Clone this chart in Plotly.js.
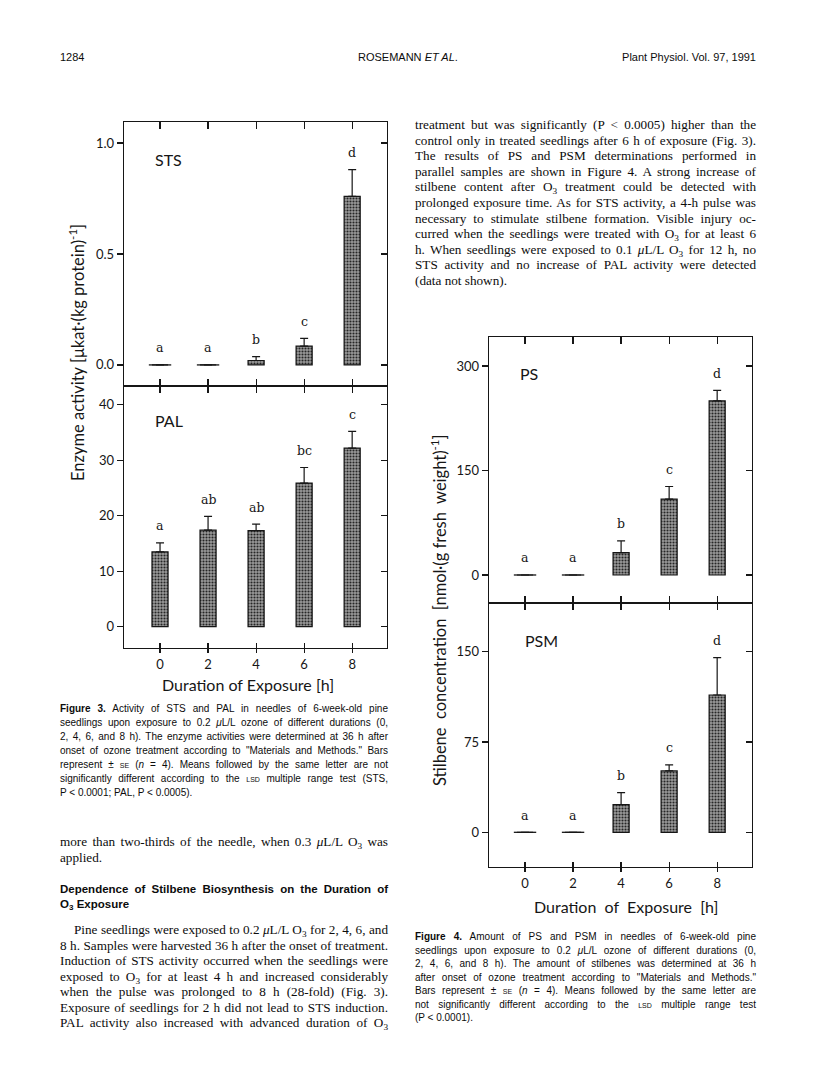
<!DOCTYPE html>
<html><head><meta charset="utf-8">
<script src="https://cdn.plot.ly/plotly-3.0.1.min.js"></script>
<style>
html,body{margin:0;padding:0;background:#fff;}
#page{position:relative;width:816px;height:1073px;overflow:hidden;background:#fff;}
#chart{position:absolute;left:0;top:0;width:816px;height:1073px;}
.ln{position:absolute;white-space:nowrap;color:#0c0c0c;}
.serif{font-family:"Liberation Serif","Times New Roman",serif;font-size:13.2px;line-height:16px;height:16px;}
.cap{font-family:"Liberation Sans",Arial,sans-serif;font-size:10px;line-height:13px;height:13px;}
.hd{font-family:"Liberation Sans",Arial,sans-serif;font-size:11.5px;font-weight:bold;line-height:15px;height:15px;}
.top{font-family:"Liberation Sans",Arial,sans-serif;font-size:11px;line-height:14px;height:14px;}
.sc{font-variant:small-caps;}
sub{font-size:0.7em;vertical-align:-0.3em;line-height:0;}
</style></head>
<body>
<div id="page">
<div id="chart"></div>

<div class="ln top" style="left:60px;top:50px">1284</div>
<div class="ln top" style="left:358px;top:50px">ROSEMANN <i>ET AL</i>.</div>
<div class="ln top" style="right:60px;top:50px">Plant Physiol. Vol. 97, 1991</div>

<div class="ln serif j" data-w="341" style="left:415px;top:117px">treatment but was significantly (P &lt; 0.0005) higher than the</div>
<div class="ln serif j" data-w="341" style="left:415px;top:132.6px">control only in treated seedlings after 6 h of exposure (Fig. 3).</div>
<div class="ln serif j" data-w="341" style="left:415px;top:148.2px">The results of PS and PSM determinations performed in</div>
<div class="ln serif j" data-w="341" style="left:415px;top:163.8px">parallel samples are shown in Figure 4. A strong increase of</div>
<div class="ln serif j" data-w="341" style="left:415px;top:179.4px">stilbene content after O<sub>3</sub> treatment could be detected with</div>
<div class="ln serif j" data-w="341" style="left:415px;top:195px">prolonged exposure time. As for STS activity, a 4-h pulse was</div>
<div class="ln serif j" data-w="341" style="left:415px;top:210.6px">necessary to stimulate stilbene formation. Visible injury oc-</div>
<div class="ln serif j" data-w="341" style="left:415px;top:226.2px">curred when the seedlings were treated with O<sub>3</sub> for at least 6</div>
<div class="ln serif j" data-w="341" style="left:415px;top:241.8px">h. When seedlings were exposed to 0.1 <i>μ</i>L/L O<sub>3</sub> for 12 h, no</div>
<div class="ln serif j" data-w="341" style="left:415px;top:257.4px">STS activity and no increase of PAL activity were detected</div>
<div class="ln serif" style="left:415px;top:273px">(data not shown).</div>

<div class="ln cap j" data-w="328" style="left:60px;top:702px"><b>Figure 3.</b> Activity of STS and PAL in needles of 6-week-old pine</div>
<div class="ln cap j" data-w="328" style="left:60px;top:716px">seedlings upon exposure to 0.2 <i>μ</i>L/L ozone of different durations (0,</div>
<div class="ln cap j" data-w="328" style="left:60px;top:730px">2, 4, 6, and 8 h). The enzyme activities were determined at 36 h after</div>
<div class="ln cap j" data-w="328" style="left:60px;top:744px">onset of ozone treatment according to "Materials and Methods." Bars</div>
<div class="ln cap j" data-w="328" style="left:60px;top:758px">represent ± <span class="sc">se</span> (<i>n</i> = 4). Means followed by the same letter are not</div>
<div class="ln cap j" data-w="328" style="left:60px;top:772px">significantly different according to the <span class="sc">lsd</span> multiple range test (STS,</div>
<div class="ln cap" style="left:60px;top:786px">P &lt; 0.0001; PAL, P &lt; 0.0005).</div>

<div class="ln serif j" data-w="328" style="left:60px;top:834px">more than two-thirds of the needle, when 0.3 <i>μ</i>L/L O<sub>3</sub> was</div>
<div class="ln serif" style="left:60px;top:849.5px">applied.</div>
<div class="ln hd j" data-w="328" style="left:60px;top:881.5px">Dependence of Stilbene Biosynthesis on the Duration of</div>
<div class="ln hd" style="left:60px;top:896.5px">O<sub>3</sub> Exposure</div>
<div class="ln serif j" data-w="314" style="left:74px;top:922px">Pine seedlings were exposed to 0.2 <i>μ</i>L/L O<sub>3</sub> for 2, 4, 6, and</div>
<div class="ln serif j" data-w="328" style="left:60px;top:937.5px">8 h. Samples were harvested 36 h after the onset of treatment.</div>
<div class="ln serif j" data-w="328" style="left:60px;top:953px">Induction of STS activity occurred when the seedlings were</div>
<div class="ln serif j" data-w="328" style="left:60px;top:968.5px">exposed to O<sub>3</sub> for at least 4 h and increased considerably</div>
<div class="ln serif j" data-w="328" style="left:60px;top:984px">when the pulse was prolonged to 8 h (28-fold) (Fig. 3).</div>
<div class="ln serif j" data-w="328" style="left:60px;top:999.5px">Exposure of seedlings for 2 h did not lead to STS induction.</div>
<div class="ln serif j" data-w="328" style="left:60px;top:1015px">PAL activity also increased with advanced duration of O<sub>3</sub></div>

<div class="ln cap j" data-w="341" style="left:415px;top:930px"><b>Figure 4.</b> Amount of PS and PSM in needles of 6-week-old pine</div>
<div class="ln cap j" data-w="341" style="left:415px;top:943.5px">seedlings upon exposure to 0.2 <i>μ</i>L/L ozone of different durations (0,</div>
<div class="ln cap j" data-w="341" style="left:415px;top:957px">2, 4, 6, and 8 h). The amount of stilbenes was determined at 36 h</div>
<div class="ln cap j" data-w="341" style="left:415px;top:970.5px">after onset of ozone treatment according to "Materials and Methods."</div>
<div class="ln cap j" data-w="341" style="left:415px;top:984px">Bars represent ± <span class="sc">se</span> (<i>n</i> = 4). Means followed by the same letter are</div>
<div class="ln cap j" data-w="341" style="left:415px;top:997.5px">not significantly different according to the <span class="sc">lsd</span> multiple range test</div>
<div class="ln cap" style="left:415px;top:1011px">(P &lt; 0.0001).</div>
</div>

<script>
// ---------------- data ----------------
const hours = [0, 2, 4, 6, 8];
const xTickLabels = ['0', '2', '4', '6', '8'];

const stsMean = [0, 0, 0.02, 0.085, 0.76];
const stsSE = [0, 0, 0.017, 0.035, 0.12];
const stsLetters = ['a', 'a', 'b', 'c', 'd'];
const stsTicks = [0, 0.5, 1.0];
const stsTickText = ['0.0', '0.5', '1.0'];

const palMean = [13.5, 17.4, 17.3, 25.9, 32.2];
const palSE = [1.6, 2.5, 1.2, 2.8, 3.0];
const palLetters = ['a', 'ab', 'ab', 'bc', 'c'];
const palTicks = [0, 10, 20, 30, 40];

const psMean = [0, 0, 32, 109, 250];
const psSE = [0, 0, 17, 18, 15];
const psLetters = ['a', 'a', 'b', 'c', 'd'];
const psTicks = [0, 150, 300];

const psmMean = [0, 0, 23, 51, 114];
const psmSE = [0, 0, 10, 5, 31];
const psmLetters = ['a', 'a', 'b', 'c', 'd'];
const psmTicks = [0, 75, 150];

// ---------------- geometry ----------------
const W = 816, H = 1073;
const px = v => v / W;
const py = v => 1 - v / H;
const f3x = [px(124), px(387)];
const stsY = [py(386), py(122)];
const palY = [py(648), py(386)];
const f4x = [px(489), px(752)];
const psY = [py(603), py(337)];
const psmY = [py(867), py(603)];
const xr = [-1.5, 9.45];

const ink = '#161616';
const base = {showline: true, linecolor: ink, linewidth: 1.3, tickcolor: ink, tickwidth: 1.2,
  showgrid: false, zeroline: false, fixedrange: true, tickmode: 'array'};
const tickFont = {family: 'Lato, "DejaVu Sans", sans-serif', size: 13, color: ink};

function xa(extra) { return Object.assign({}, base, {range: xr, tickvals: hours, ticktext: xTickLabels, showticklabels: false}, extra); }
function ya(range, ticks, text, extra) {
  return Object.assign({}, base, {range: range, tickvals: ticks, ticktext: text || ticks.map(String), showticklabels: false}, extra);
}

const stsR = [-0.095, 1.095], palR = [-3.85, 43.4], psR = [-40.2, 341.6], psmR = [-28.8, 190.4];

const layout = {
  width: W, height: H, margin: {l: 0, r: 0, t: 0, b: 0},
  paper_bgcolor: 'rgba(0,0,0,0)', plot_bgcolor: 'rgba(0,0,0,0)',
  showlegend: false, bargap: 0,
  font: tickFont,
  // Figure 3
  xaxis: xa({domain: f3x, anchor: 'y', side: 'top', ticks: 'inside', ticklen: 7}),
  xaxis5: xa({overlaying: 'x', anchor: 'y', side: 'bottom', ticks: 'outside', ticklen: 6}),
  xaxis2: xa({domain: f3x, anchor: 'y2', side: 'bottom', ticks: 'outside', ticklen: 4, showticklabels: true, tickfont: tickFont}),
  xaxis6: xa({overlaying: 'x2', anchor: 'y2', side: 'top', ticks: 'outside', ticklen: 6}),
  xaxis7: xa({overlaying: 'x2', anchor: 'y2', side: 'bottom', ticks: 'inside', ticklen: 5, showline: false}),
  yaxis: ya(stsR, stsTicks, stsTickText, {domain: stsY, anchor: 'x', side: 'left', ticks: 'outside', ticklen: 6, showticklabels: true, tickfont: tickFont}),
  yaxis5: ya(stsR, stsTicks, stsTickText, {overlaying: 'y', anchor: 'x', side: 'right', ticks: 'inside', ticklen: 6}),
  yaxis2: ya(palR, palTicks, null, {domain: palY, anchor: 'x2', side: 'left', ticks: 'outside', ticklen: 6, showticklabels: true, tickfont: tickFont}),
  yaxis6: ya(palR, palTicks, null, {overlaying: 'y2', anchor: 'x2', side: 'right', ticks: 'inside', ticklen: 6}),
  // Figure 4
  xaxis3: xa({domain: f4x, anchor: 'y3', side: 'top', ticks: 'inside', ticklen: 7}),
  xaxis8: xa({overlaying: 'x3', anchor: 'y3', side: 'bottom', ticks: 'outside', ticklen: 6}),
  xaxis4: xa({domain: f4x, anchor: 'y4', side: 'bottom', ticks: 'outside', ticklen: 4, showticklabels: true, tickfont: tickFont}),
  xaxis9: xa({overlaying: 'x4', anchor: 'y4', side: 'top', ticks: 'outside', ticklen: 6}),
  xaxis10: xa({overlaying: 'x4', anchor: 'y4', side: 'bottom', ticks: 'inside', ticklen: 5, showline: false}),
  yaxis3: ya(psR, psTicks, null, {domain: psY, anchor: 'x3', side: 'left', ticks: 'outside', ticklen: 6, showticklabels: true, tickfont: tickFont}),
  yaxis7: ya(psR, psTicks, null, {overlaying: 'y3', anchor: 'x3', side: 'right', ticks: 'inside', ticklen: 6}),
  yaxis4: ya(psmR, psmTicks, null, {domain: psmY, anchor: 'x4', side: 'left', ticks: 'outside', ticklen: 6, showticklabels: true, tickfont: tickFont}),
  yaxis8: ya(psmR, psmTicks, null, {overlaying: 'y4', anchor: 'x4', side: 'right', ticks: 'inside', ticklen: 6}),
  annotations: []
};

const traces = [];
const pattern = {shape: '.', fgcolor: '#262626', bgcolor: '#9a9a9a', size: 3, solidity: 0.38, fillmode: 'replace'};

function panel(mean, se, letters, xid, yid) {
  traces.push({
    type: 'bar', x: hours, y: mean, xaxis: xid, yaxis: yid, width: 0.67,
    marker: {color: '#6e6e6e', line: {color: ink, width: 1.2}, pattern: pattern},
    error_y: {type: 'data', symmetric: false, array: se, arrayminus: se.map(() => 0),
      color: ink, thickness: 1.2, width: 4},
    hoverinfo: 'skip'
  });
  const zx = [], zy = [];
  mean.forEach((m, i) => { if (m === 0) { zx.push(hours[i]); zy.push(m); } });
  traces.push({type: 'scatter', mode: 'markers', x: zx, y: zy, xaxis: xid, yaxis: yid,
    marker: {symbol: 'line-ew', size: 16, color: ink, line: {color: ink, width: 1.3}}, hoverinfo: 'skip'});
  letters.forEach((t, i) => {
    layout.annotations.push({x: hours[i], y: mean[i] + se[i], xref: xid, yref: yid, yshift: 17,
      xanchor: 'center', yanchor: 'middle',
      showarrow: false, text: t, font: {family: '"DejaVu Serif", "Liberation Serif", serif', size: 12.5, color: ink}});
  });
}
panel(stsMean, stsSE, stsLetters, 'x', 'y');
panel(palMean, palSE, palLetters, 'x2', 'y2');
panel(psMean, psSE, psLetters, 'x3', 'y3');
panel(psmMean, psmSE, psmLetters, 'x4', 'y4');

// empty traces to register overlay axes
[['x5','y'],['x','y5'],['x6','y2'],['x7','y2'],['x2','y6'],['x8','y3'],['x3','y7'],['x9','y4'],['x10','y4'],['x4','y8']]
  .forEach(p => traces.push({type: 'scatter', x: [], y: [], xaxis: p[0], yaxis: p[1], hoverinfo: 'skip', showlegend: false}));

const lblFont = {family: 'Lato, "DejaVu Sans", sans-serif', size: 16, color: ink};
const ttlFont = {family: 'Lato, "DejaVu Sans", sans-serif', size: 16, color: ink};
function lab(text, x, y, font, extra) {
  layout.annotations.push(Object.assign({text: text, x: px(x), y: py(y), xref: 'paper', yref: 'paper',
    xanchor: 'center', yanchor: 'middle', showarrow: false, font: font}, extra || {}));
}
lab('STS', 153, 159, lblFont, {xanchor: 'left'});
lab('PAL', 153, 420, lblFont, {xanchor: 'left'});
lab('PS', 518, 373, lblFont, {xanchor: 'left'});
lab('PSM', 523, 640, lblFont, {xanchor: 'left'});
lab('Enzyme activity [μkat·(kg protein)<sup>-1</sup>]', 77, 353, Object.assign({}, ttlFont, {size: 16.5}), {textangle: -90});
lab('Stilbene\u00a0\u00a0concentration\u00a0\u00a0[nmol·(g fresh\u00a0\u00a0weight)<sup>-1</sup>]', 439, 610, Object.assign({}, ttlFont, {size: 16.5}), {textangle: -90});
lab('Duration of Exposure [h]', 248, 684, ttlFont);
lab('Duration\u00a0\u00a0of\u00a0\u00a0Exposure\u00a0\u00a0[h]', 626, 906, ttlFont);

Plotly.newPlot('chart', traces, layout, {staticPlot: true, displayModeBar: false});

// justify text lines
function justify() {
  document.querySelectorAll('.j').forEach(el => {
    el.style.wordSpacing = '0px';
    const target = +el.dataset.w;
    const w = el.getBoundingClientRect().width;
    const n = (el.textContent.match(/ /g) || []).length;
    if (n > 0) el.style.wordSpacing = ((target - w) / n) + 'px';
  });
}
if (document.fonts && document.fonts.ready) document.fonts.ready.then(justify); else justify();
justify();
</script>
</body></html>
